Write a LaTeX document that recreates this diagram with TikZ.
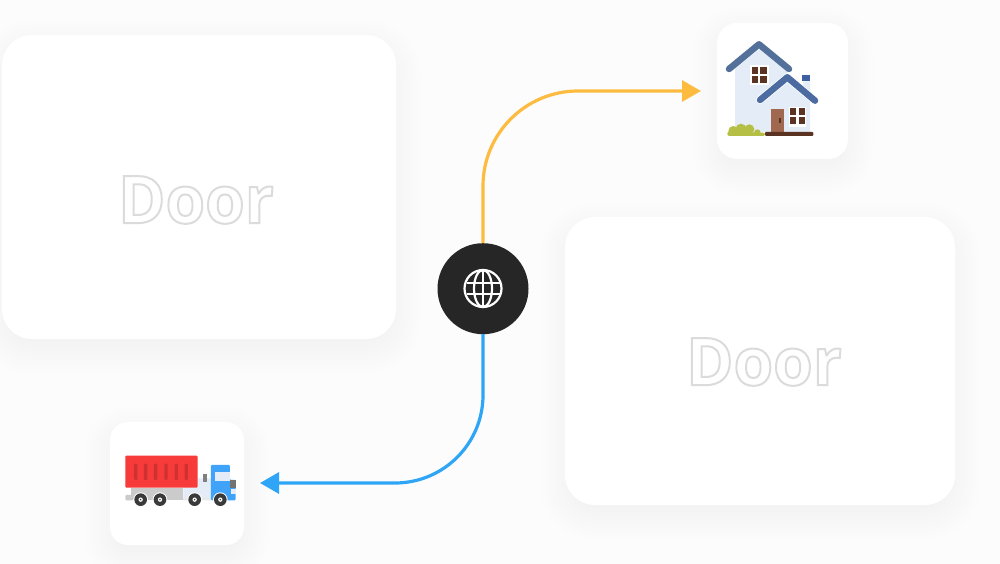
\documentclass[tikz,border=0pt]{standalone}
\usepackage{fontspec}
\usetikzlibrary{arrows.meta}
\newfontfamily\doorfont{Open Sans}
\definecolor{pagebg}{HTML}{FCFCFC}
\definecolor{flowyellow}{HTML}{FDBB3F}
\definecolor{flowblue}{HTML}{2FA5F7}
\definecolor{hubdark}{HTML}{262626}
\definecolor{wall}{HTML}{E3ECF7}
\definecolor{roofA}{HTML}{527099}
\definecolor{roofB}{HTML}{4C6BA0}
\definecolor{chim}{HTML}{3F5FA5}
\definecolor{pane}{HTML}{5A3322}
\definecolor{doorwood}{HTML}{A0694F}
\definecolor{bush}{HTML}{B5BF45}
\definecolor{boxred}{HTML}{F73B3B}
\definecolor{ribred}{HTML}{CF3030}
\definecolor{chassis}{HTML}{CBCBCB}
\definecolor{cabblue}{HTML}{3FA3FA}
\definecolor{tyre}{HTML}{3A3A3A}
\newcommand{\softshadow}[5]{%
  \foreach \g in {24,20,...,-8}{
    \pgfmathtruncatemacro{\lv}{251-(24-\g)/4}
    \fill[fill={rgb,255:red,\lv;green,\lv;blue,\lv},rounded corners=#5pt+\g pt]
      (#1-\g,#2-\g+10) rectangle (#3+\g,#4+\g+10);
  }}
\newcommand{\outlinetext}[1]{\special{pdf:code q 0.86 G 2 w 1 Tr}#1\special{pdf:code 0 Tr Q}}
\tikzset{
  x=1pt,y=-1pt,
  card/.style={fill=white,draw=none,inner sep=0pt,outer sep=0pt},
  doorlabel/.style={inner sep=0pt,font=\doorfont\fontsize{66}{66}\selectfont\bfseries,xscale=0.97,transform shape},
  flow/.style={line width=3.2pt,-{Triangle[length=19pt,width=21pt]}},
}
\newcommand{\paneset}[2]{%
  \fill[pane] (#1,#2) rectangle ++(19,22);
  \fill[pane] (#1+26,#2) rectangle ++(19,22);
  \fill[pane] (#1,#2+27) rectangle ++(19,22);
  \fill[pane] (#1+26,#2+27) rectangle ++(19,22);}
\newcommand{\truckwheel}[1]{%
  \fill[white] (#1,254) circle (22);
  \fill[tyre] (#1,254) circle (19);
  \fill[white] (#1,254) circle (6.5);
  \fill[tyre] (#1,254) circle (2.5);}
\begin{document}
\begin{tikzpicture}
\useasboundingbox (0,0) rectangle (1000,564);
\fill[pagebg] (0,0) rectangle (1000,564);
\softshadow{2}{35}{396}{339}{30}
\softshadow{565}{217}{955}{505}{30}
\softshadow{717}{23}{848}{159}{20}
\softshadow{110}{422}{244}{545}{18}
\node[card,rounded corners=30pt,minimum width=394pt,minimum height=304pt] (doorA) at (199,187) {};
\node[card,rounded corners=30pt,minimum width=390pt,minimum height=288pt] (doorB) at (760,361) {};
\node[card,rounded corners=20pt,minimum width=131pt,minimum height=136pt] (homecard) at (782.5,91) {};
\node[card,rounded corners=18pt,minimum width=134pt,minimum height=123pt] (truckcard) at (177,483.5) {};
\node[doorlabel] (doorAtext) at (196,200) {\outlinetext{Door}};
\node[doorlabel] (doorBtext) at (764,362) {\outlinetext{Door}};
\node[circle,fill=hubdark,minimum size=91pt,inner sep=0pt,outer sep=0pt] (hub) at (483,288.7) {};
\coordinate (homeTip) at (701,91);
\coordinate (truckTip) at (260,483);
\draw[flow,draw=flowyellow,rounded corners=95pt] (hub.north) |- (homeTip);
\draw[flow,draw=flowblue,rounded corners=88pt] (hub.south) |- (truckTip);
\begin{scope}[shift={(483,288.5)},draw=white,line width=2.2pt]
  \draw (0,0) circle (18.5);
  \draw (0,0) ellipse (9 and 18.5);
  \draw (0,-18.5) -- (0,18.5);
  \draw (-16.5,-5.5) -- (16.5,-5.5);
  \draw (-16.5,5.5) -- (16.5,5.5);
\end{scope}
\begin{scope}[shift={(700,10)},x=0.3333pt,y=-0.3333pt]
  \fill[wall] (105,366) -- (105,175) -- (178,118) -- (262,185) -- (262,215) -- (310,250) -- (310,214) -- (330,214) -- (330,366) -- cycle;
  \fill[chim] (307,196) rectangle (330,214);
  \draw[white,line width=8pt,line cap=round,line join=round] (180,270) -- (262,202) -- (345,272);
  \draw[roofA,line width=6.5pt,line cap=round,line join=round] (87,177) -- (177,103) -- (267,177);
  \draw[roofB,line width=6.5pt,line cap=round,line join=round] (180,270) -- (262,202) -- (345,272);
  \fill[white] (151,166) rectangle (206,225);
  \paneset{155}{170}
  \fill[white] (266,290) rectangle (319,350);
  \paneset{270}{294}
  \fill[doorwood] (213,298) rectangle (251,366);
  \fill[pane] (236,324) rectangle (243,338);
  \fill[pane,rounded corners=1pt] (195,366) rectangle (340,378);
  \fill[bush,rounded corners=2pt] (82,378) -- (82,365) -- (195,368) -- (195,378) -- cycle;
  \fill[bush] (100,363) circle (15);
  \fill[bush] (123,357) circle (16);
  \fill[bush] (148,358) circle (15);
  \fill[bush] (172,368) circle (10);
\end{scope}
\begin{scope}[shift={(100,415)},x=0.3333pt,y=-0.3333pt]
  \fill[wall] (250,218) -- (293,218) -- (293,190) -- (333,190) -- (333,256) -- (250,256) -- cycle;
  \fill[chassis] (92,218) rectangle (250,256);
  \fill[chassis,rounded corners=1pt] (76,240) rectangle (100,256);
  \fill[white!55!chassis] (250,248) rectangle (333,256);
  \fill[gray] (309,177) rectangle (321,200);
  \fill[cabblue,rounded corners=1pt] (333,150) -- (390,150) -- (390,195) -- (407,195) -- (407,256) -- (333,256) -- cycle;
  \fill[wall] (345,170) rectangle (390,198);
  \fill[gray!90!black] (390,195) rectangle (407,218);
  \fill[wall] (393,222) rectangle (407,238);
  \fill[boxred,rounded corners=1pt] (76,122) rectangle (293,218);
  \foreach \rx in {102,132,162,193,224,254}{
    \fill[ribred,rounded corners=1pt] (\rx,146) rectangle (\rx+10,195);
  }
  \truckwheel{122}
  \truckwheel{180}
  \truckwheel{284}
  \truckwheel{361}
\end{scope}
\end{tikzpicture}
\end{document}
